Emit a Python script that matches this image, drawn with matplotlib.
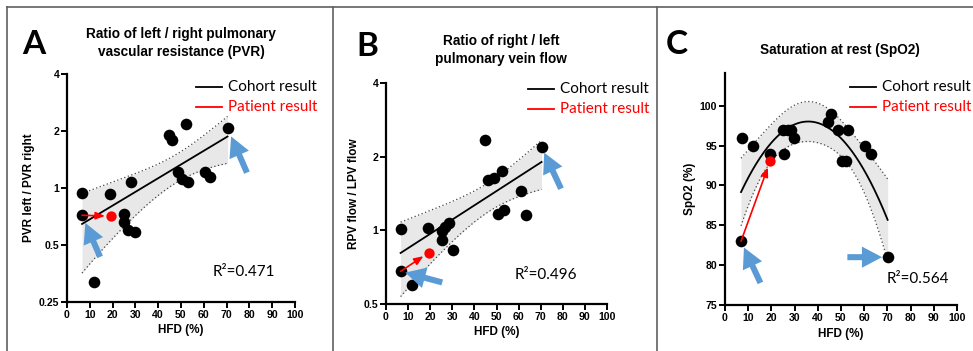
import numpy as np
import matplotlib
matplotlib.use("Agg")
import matplotlib.pyplot as plt
from matplotlib.lines import Line2D

W, H = 973, 351

# ---- data ----
a_hfd = [6.6, 6.6, 19.0, 28.2, 24.9, 25.2, 26.7, 29.8, 11.9, 44.7, 45.9, 52.3, 48.5, 50.3, 53.1, 60.6, 62.9, 70.4]
a_pvr = [0.94, 0.718, 0.93, 1.07, 0.73, 0.66, 0.60, 0.589, 0.319, 1.90, 1.80, 2.19, 1.21, 1.11, 1.08, 1.22, 1.15, 2.07]
a_patient = [(6.6, 0.718), (19.4, 0.71)]
a_marked = [(6.6, 0.718), (70.4, 2.07)]

b_hfd = [6.6, 6.6, 11.8, 19.2, 25.2, 25.5, 26.7, 28.5, 30.1, 44.9, 46.1, 48.8, 52.7, 50.6, 53.3, 60.9, 63.4, 70.4]
b_flow = [1.017, 0.68, 0.60, 1.02, 0.909, 0.995, 1.036, 1.076, 0.83, 2.34, 1.61, 1.64, 1.74, 1.17, 1.21, 1.45, 1.16, 2.19]
b_patient = [(6.6, 0.68), (19.3, 0.81)]
b_marked = [(6.6, 0.68), (70.4, 2.19)]

c_hfd = [6.9, 7.5, 12.1, 19.3, 25.5, 24.9, 27.3, 28.5, 29.9, 44.6, 45.9, 48.6, 52.9, 50.4, 52.1, 60.3, 63.0, 70.1]
c_spo2 = [83, 96, 95, 94, 94, 97, 97, 97, 96, 98, 99, 97, 97, 93, 93, 95, 94, 81]
c_patient = [(6.9, 83), (19.4, 93)]
c_marked = [(6.9, 83), (70.1, 81)]

T95 = {15: 2.131, 16: 2.120, 17: 2.110}

plt.rcParams.update({"font.family": "Liberation Sans", "font.weight": "bold",
                     "axes.labelweight": "bold"})
BLUE = "#5b9bd5"
CAL = "Lato"

fig = plt.figure(figsize=(W / 100, H / 100), dpi=100)


def fx(px):
    return px / W


def fy(py):
    return 1 - py / H


def band_from(J, Js, resid, fit, dof):
    cov = (resid @ resid / dof) * np.linalg.inv(J.T @ J)
    se = np.sqrt(np.einsum("ij,jk,ik->i", Js, cov, Js))
    return fit, fit - T95[dof] * se, fit + T95[dof] * se


def poly_band(x, y, deg, xs):
    X = np.vander(x, deg + 1)
    coef, *_ = np.linalg.lstsq(X, y, rcond=None)
    Xs = np.vander(xs, deg + 1)
    return band_from(X, Xs, y - X @ coef, Xs @ coef, len(x) - deg - 1)


def exp_band(x, y, xs):
    # y = y0 * exp(k x), least squares on raw y (Gauss-Newton)
    k, ly0 = np.polyfit(x, np.log(y), 1)
    p = np.array([np.exp(ly0), k])
    for _ in range(50):
        e = np.exp(p[1] * x)
        J = np.column_stack([e, p[0] * x * e])
        step, *_ = np.linalg.lstsq(J, y - p[0] * e, rcond=None)
        p = p + step
    e = np.exp(p[1] * x)
    J = np.column_stack([e, p[0] * x * e])
    es = np.exp(p[1] * xs)
    Js = np.column_stack([es, p[0] * xs * es])
    return band_from(J, Js, y - p[0] * e, p[0] * es, len(x) - 2)


def panel(box, x, y, logy, patient, marked, arrows, ylabel, yticks, ylim):
    l, t, r, b = box
    ax = fig.add_axes([fx(l), fy(b), fx(r - l), (b - t) / H])
    x = np.asarray(x, float)
    y = np.asarray(y, float)
    xs = np.linspace(x.min(), x.max(), 200)
    if logy:
        fit, lo, hi = exp_band(x, y, xs)
        ax.set_yscale("log", base=2)
    else:
        fit, lo, hi = poly_band(x, y, 2, xs)
    ax.fill_between(xs, lo, hi, color="#e8e8e8", lw=0, zorder=1)
    ax.plot(xs, lo, ls=(0, (1, 2)), color="#444444", lw=0.9, zorder=2)
    ax.plot(xs, hi, ls=(0, (1, 2)), color="#444444", lw=0.9, zorder=2)
    ax.plot(xs, fit, color="black", lw=1.3, zorder=3)
    ax.scatter(x, y, s=70, color="black", zorder=4, lw=0)
    ax.scatter([patient[1][0]], [patient[1][1]], s=55, color="red", zorder=5, lw=0)
    ax.annotate("", xy=patient[1], xytext=patient[0],
                arrowprops=dict(arrowstyle="-|>,head_length=0.55,head_width=0.22",
                                color="red", lw=1.2, shrinkA=0, shrinkB=4.5), zorder=6)
    for (px, py), (dx, dy, shr) in zip(marked, arrows):
        ax.annotate("", xy=(px, py), xytext=(dx, dy), textcoords="offset points",
                    arrowprops=dict(arrowstyle="simple,head_length=1.0,head_width=1.05,tail_width=0.3",
                                    mutation_scale=14.5, color=BLUE, lw=0, shrinkA=0, shrinkB=shr),
                    zorder=7)
    ax.set_xlim(0, 100)
    ax.set_ylim(*ylim)
    ax.set_xticks(range(0, 101, 10))
    ax.set_yticks(yticks)
    ax.set_yticklabels([f"{v:g}" for v in yticks])
    ax.minorticks_off()
    ax.spines[["top", "right"]].set_visible(False)
    for s in ("left", "bottom"):
        ax.spines[s].set_linewidth(1.6)
    ax.tick_params(width=1.4, length=4, labelsize=7.6, pad=1.5)
    ax.set_xlabel("HFD (%)", fontsize=8.5, labelpad=3.5)
    ax.set_ylabel(ylabel, fontsize=8.5, labelpad=3)
    for lab in ax.get_xticklabels() + ax.get_yticklabels():
        lab.set_fontweight("bold")
    return ax


panel((67, 74, 295, 302), a_hfd, a_pvr, True, a_patient, a_marked,
      [(13, -30, 6), (14, -32, 6.5)], "PVR left / PVR right",
      [0.25, 0.5, 1, 2, 4], (0.25, 4))
panel((386, 83, 607, 304), b_hfd, b_flow, True, b_patient, b_marked,
      [(30, -8, 3.5), (14, -30, 4.5)], "RPV flow / LPV flow",
      [0.5, 1, 2, 4], (0.5, 4))
panel((725, 73, 957, 305), c_hfd, c_spo2, False, c_patient, c_marked,
      [(14, -30, 5), (-29, 0, 4)], "SpO2 (%)",
      [75, 80, 85, 90, 95, 100], (75, 104.1))

# titles and panel letters
titles = [(181, 43, "Ratio of left / right pulmonary\nvascular resistance (PVR)"),
          (501, 50, "Ratio of right / left\npulmonary vein flow"),
          (840, 50, "Saturation at rest (SpO2)")]
for px, py, s in titles:
    fig.text(fx(px), fy(py), s, ha="center", va="center", fontsize=9.8,
             fontweight="bold", linespacing=1.4)
for px, py, s in [(34, 44, "A"), (367, 46, "B"), (677, 44, "C")]:
    fig.text(fx(px), fy(py), s, ha="center", va="center", fontsize=24,
             fontweight="bold", family=CAL)

# legends and R2
for x0, y0 in [(196, 87), (528, 89), (850, 87)]:
    for dy, col, lab in [(0, "black", "Cohort result"), (20, "red", "Patient result")]:
        fig.add_artist(Line2D([fx(x0), fx(x0 + 26)], [fy(y0 + dy)] * 2, color=col, lw=1.3))
        fig.text(fx(x0 + 32), fy(y0 + dy), lab, color=col, fontsize=11,
                 fontweight="normal", family=CAL, va="center")
for px, py, s in [(213, 272, "0.471"), (515, 275, "0.496"), (887, 279, "0.564")]:
    fig.text(fx(px), fy(py), "R\u00b2=" + s, fontsize=11, fontweight="normal",
             family=CAL, va="center")

# frame lines
fc = "#606060"
fig.add_artist(Line2D([fx(7), 1], [fy(7)] * 2, color=fc, lw=1.2))
for xv in (7, 333, 657):
    fig.add_artist(Line2D([fx(xv)] * 2, [0, fy(7)], color=fc, lw=1.2))

fig.savefig("out.png", dpi=100)
